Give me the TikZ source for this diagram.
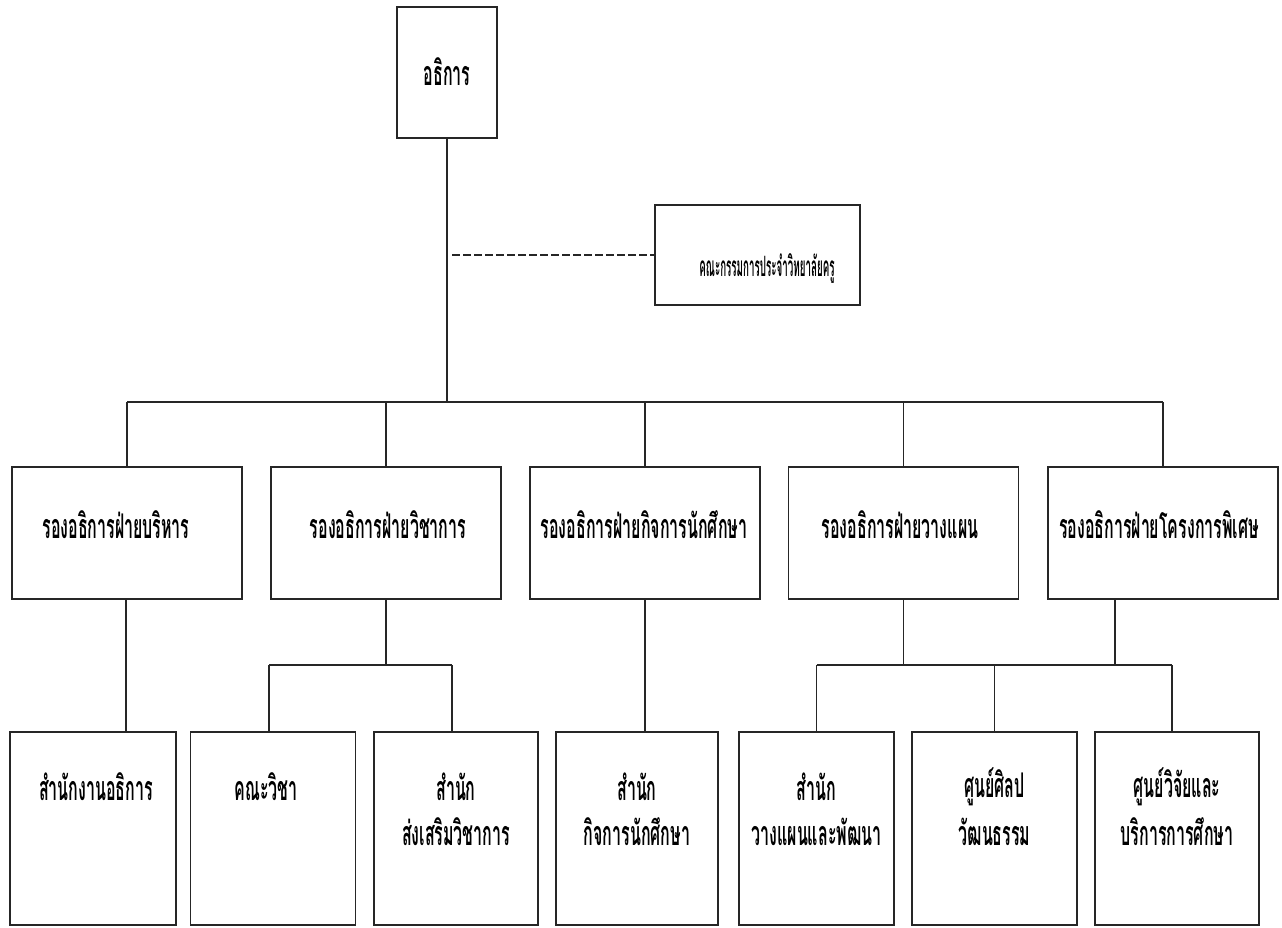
\documentclass[tikz,border=0pt]{standalone}
\usepackage{fontspec}
\newfontfamily\thai[Script=Thai,FakeStretch=0.47]{Loma}
\newfontfamily\thaicom[Script=Thai,FakeStretch=0.35]{Loma}
\begin{document}
\begin{tikzpicture}[x=1pt,y=-1pt,
  box/.style={draw=black!85, line width=1.2pt, inner sep=0pt},
  lbl/.style={font=\thai\bfseries\fontsize{34}{34}\selectfont, inner sep=0pt},
  slbl/.style={font=\thaicom\bfseries\fontsize{28}{28}\selectfont, inner sep=0pt},
  conn/.style={draw=black!85, line width=1.2pt}]
\useasboundingbox (0,0) rectangle (1282,927);
% boxes
\node[box, minimum width=100pt, minimum height=131pt] (top) at (447,72.5) {};
\node[box, minimum width=205pt, minimum height=100pt] (com) at (757.5,255) {};
\foreach \n/\x in {v1/127, v2/386, v3/645, v4/903.5, v5/1163}
  \node[box, minimum width=230pt, minimum height=132pt] (\n) at (\x,533) {};
\foreach \n/\x/\w in {a/93/166, b/273/165, c/456/164, d/637/162, e/816.5/155, f/994.5/165, g/1177/164}
  \node[box, minimum width=\w pt, minimum height=193pt] (\n) at (\x,828.5) {};
% texts
\node[lbl] (ttop) at (447,72) {อธิการ};
\node[slbl] (tcom) at (767,268) {คณะกรรมการประจำวิทยาลัยครู};
\node[lbl] (t1) at (116,525) {รองอธิการฝ่ายบริหาร};
\node[lbl] (t2) at (388,525) {รองอธิการฝ่ายวิชาการ};
\node[lbl] (t3) at (644,525) {รองอธิการฝ่ายกิจการนักศึกษา};
\node[lbl] (t4) at (900,525) {รองอธิการฝ่ายวางแผน};
\node[lbl] (t5) at (1159,525) {รองอธิการฝ่ายโครงการพิเศษ};
\node[lbl] (ta) at (96,787) {สำนักงานอธิการ};
\node[lbl] (tb) at (266,787) {คณะวิชา};
\node[lbl] (tc1) at (456,787) {สำนัก};
\node[lbl] (tc2) at (456,832) {ส่งเสริมวิชาการ};
\node[lbl] (td1) at (637,787) {สำนัก};
\node[lbl] (td2) at (637,832) {กิจการนักศึกษา};
\node[lbl] (te1) at (816.5,787) {สำนัก};
\node[lbl] (te2) at (816.5,832) {วางแผนและพัฒนา};
\node[lbl] (tf1) at (994.5,787) {ศูนย์ศิลป};
\node[lbl] (tf2) at (994.5,832) {วัฒนธรรม};
\node[lbl] (tg1) at (1177,787) {ศูนย์วิจัยและ};
\node[lbl] (tg2) at (1177,832) {บริการการศึกษา};
% connectors
\coordinate (bus) at (0,402);
\coordinate (sub) at (0,665);
\draw[conn] (top.south) -- (top.south |- bus);
\draw[conn, dashed, dash pattern=on 8pt off 3pt] ([xshift=5pt]top.south |- com.west) -- (com.west);
\draw[conn] (v1.north |- bus) -- (v5.north |- bus);
\foreach \n in {v1,v2,v3,v4,v5} \draw[conn] (\n.north) -- (\n.north |- bus);
% level 2 to level 3
\draw[conn] ([xshift=-1pt]v1.south) -- ([xshift=-1pt]v1.south |- a.north);
\draw[conn] (v2.south) -- (v2.south |- sub);
\draw[conn] ([xshift=-4pt]b.north |- sub) -- ([xshift=-4pt]c.north |- sub);
\draw[conn] ([xshift=-4pt]b.north) -- ([xshift=-4pt]b.north |- sub);
\draw[conn] ([xshift=-4pt]c.north) -- ([xshift=-4pt]c.north |- sub);
\draw[conn] (v3.south) -- (v3.south |- d.north);
\draw[conn] (v4.south) -- (v4.south |- sub);
\draw[conn] ([xshift=-48pt]v5.south) -- ([xshift=-48pt]v5.south |- sub);
\draw[conn] (e.north |- sub) -- ([xshift=-5pt]g.north |- sub);
\draw[conn] (e.north) -- (e.north |- sub);
\draw[conn] (f.north) -- (f.north |- sub);
\draw[conn] ([xshift=-5pt]g.north) -- ([xshift=-5pt]g.north |- sub);
\end{tikzpicture}
\end{document}
